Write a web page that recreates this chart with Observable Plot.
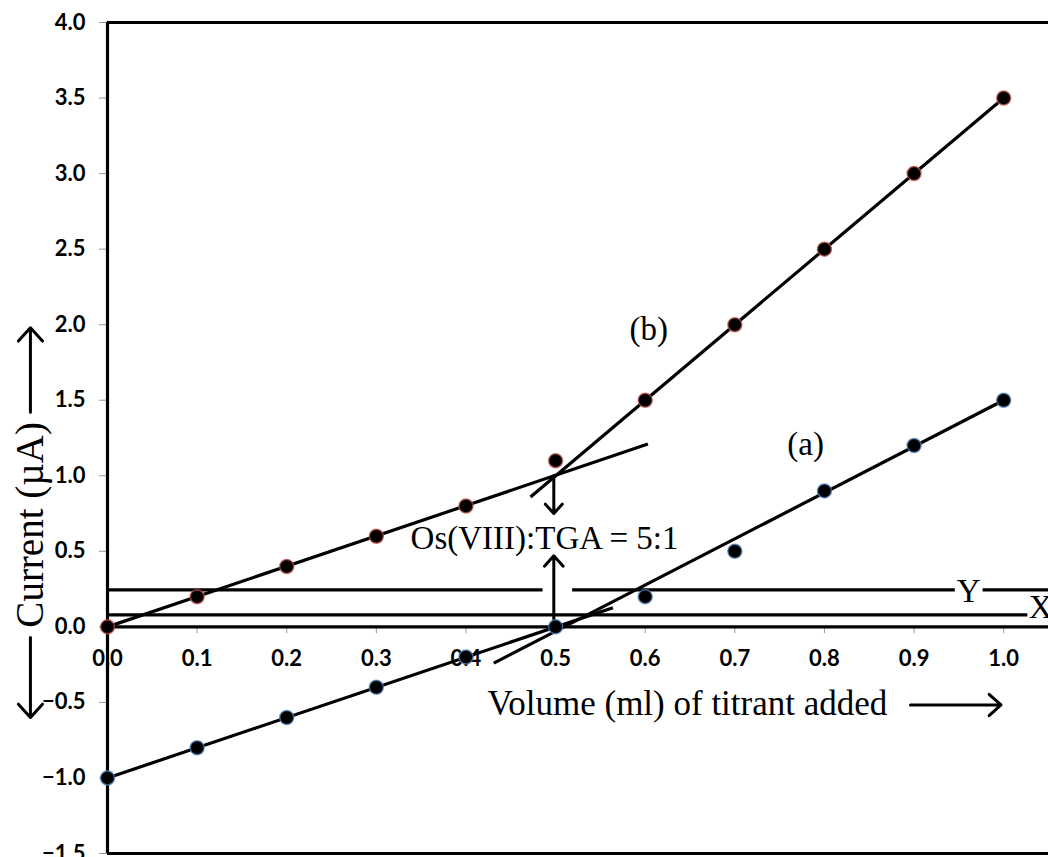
<!DOCTYPE html>
<html><head><meta charset="utf-8">
<script src="https://cdn.jsdelivr.net/npm/d3@7"></script>
<script src="https://cdn.jsdelivr.net/npm/@observablehq/plot@0.6"></script>
<style>body{margin:0;background:#fff}</style>
</head><body><div id="chart"></div>
<script>
// ---- data ----
const volume   = [0.0, 0.1, 0.2, 0.3, 0.4, 0.5, 0.6, 0.7, 0.8, 0.9, 1.0];
const currentA = [-1.0, -0.8, -0.6, -0.4, -0.2, 0.0, 0.2, 0.5, 0.9, 1.2, 1.5];
const currentB = [0.0, 0.2, 0.4, 0.6, 0.8, 1.1, 1.5, 2.0, 2.5, 3.0, 3.5];
const xTicks = [0.0, 0.1, 0.2, 0.3, 0.4, 0.5, 0.6, 0.7, 0.8, 0.9, 1.0];
const yTicks = [-1.5, -1.0, -0.5, 0.0, 0.5, 1.0, 1.5, 2.0, 2.5, 3.0, 3.5, 4.0];
// fitted straight-line segments (b low, b steep, a low, a steep)
const fitX1 = [0.0, 0.472, 0.0, 0.431];
const fitY1 = [0.0, 0.86, -1.0, -0.24];
const fitX2 = [0.603, 1.0, 0.564, 1.0];
const fitY2 = [1.21, 3.5, 0.127, 1.5];
// horizontal reference lines Y (with gaps) and X
const refY  = [0.245, 0.245, 0.245, 0.08];
const refX1 = [0.0, 0.519, 0.977, 0.0];
const refX2 = [0.486, 0.946, 1.05, 1.027];
// annotation texts
const noteText = ["(b)", "(a)", "Os(VIII):TGA = 5:1", "Y"];
const noteX = [0.604, 0.779, 0.4877, 0.961];
const noteY = [1.97, 1.21, 0.583, 0.232];

const ptsA = volume.map((v, i) => ({v, c: currentA[i]}));
const ptsB = volume.map((v, i) => ({v, c: currentB[i]}));
const fits = fitX1.map((d, i) => ({x1: d, y1: fitY1[i], x2: fitX2[i], y2: fitY2[i]}));
const refs = refY.map((d, i) => ({y: d, x1: refX1[i], x2: refX2[i]}));
const notes = noteText.map((t, i) => ({t, x: noteX[i], y: noteY[i]}));

const serif = "Liberation Serif, Times New Roman, serif";
const fmt = d3.format(".1f");

const chart = Plot.plot({
  width: 1048, height: 857,
  marginLeft: 107, marginRight: 0, marginTop: 22, marginBottom: 4,
  x: {domain: [0, 1.05], axis: null},
  y: {domain: [-1.5, 4.0], axis: null},
  style: {fontFamily: "Lato, sans-serif", fontWeight: "bold", fontSize: "22px", background: "#fff", overflow: "visible"},
  marks: [
    Plot.axisY(yTicks, {tickSize: 8, tickPadding: 14, tickFormat: fmt, stroke: "#999", fill: "#000", label: null, fontSize: 22, fontWeight: "bold"}),
    Plot.ruleX(xTicks, {x: d => d, y1: 0, y2: -0.045, stroke: "#999", strokeWidth: 1}),
    Plot.text(xTicks, {x: d => d, y: 0, dy: 32, text: d => fmt(d), fill: "#000", fontSize: 22, fontWeight: "bold"}),
    // frame lines
    Plot.ruleY([4.0, -1.5], {stroke: "#000", strokeWidth: 3.2}),
    Plot.ruleY([0], {stroke: "#000", strokeWidth: 3.2}),
    Plot.ruleX([0], {stroke: "#000", strokeWidth: 3.2}),
    // reference lines X and Y
    Plot.ruleY(refs, {y: "y", x1: "x1", x2: "x2", stroke: "#000", strokeWidth: 3.2}),
    // fit lines
    Plot.link(fits, {x1: "x1", y1: "y1", x2: "x2", y2: "y2", stroke: "#000", strokeWidth: 3.2}),
    // annotation arrows
    Plot.arrow([{x1: 0.498, y1: 1.0, x2: 0.498, y2: 0.75}, {x1: 0.498, y1: 0.0, x2: 0.498, y2: 0.47}],
      {x1: "x1", y1: "y1", x2: "x2", y2: "y2", stroke: "#000", strokeWidth: 3, headLength: 7, headAngle: 84}),
    Plot.arrow([{x1: 0.896, y1: -0.517, x2: 0.997, y2: -0.517}],
      {x1: "x1", y1: "y1", x2: "x2", y2: "y2", stroke: "#000", strokeWidth: 3, headLength: 8, headAngle: 84}),
    Plot.arrow([{x1: -0.086, y1: 1.42, x2: -0.086, y2: 1.98}, {x1: -0.086, y1: -0.07, x2: -0.086, y2: -0.6}],
      {x1: "x1", y1: "y1", x2: "x2", y2: "y2", stroke: "#000", strokeWidth: 3, headLength: 9, headAngle: 84}),
    // dots
    Plot.dot(ptsB, {x: "v", y: "c", r: 7, fill: "#000", stroke: "#c0504d", strokeWidth: 1.5, strokeOpacity: 0.75}),
    Plot.dot(ptsA, {x: "v", y: "c", r: 7, fill: "#000", stroke: "#4f81bd", strokeWidth: 1.5, strokeOpacity: 0.75}),
    // texts
    Plot.text(notes, {x: "x", y: "y", text: "t", fontFamily: serif, fontWeight: "normal", fontSize: 33, fill: "#000"}),
    Plot.text(["X"], {x: 1.028, y: 0.126, text: d => d, textAnchor: "start", fontFamily: serif, fontWeight: "normal", fontSize: 33, fill: "#000"}),
    Plot.text(["Volume (ml) of titrant added"], {x: 0.424, y: -0.51, text: d => d, textAnchor: "start", fontFamily: serif, fontWeight: "normal", fontSize: 35, fill: "#000"}),
    Plot.text(["Current (\u00b5A)"], {x: -0.086, y: 0.675, text: d => d, rotate: -90, fontFamily: serif, fontWeight: "normal", fontSize: 39, fill: "#000"})
  ]
});
document.getElementById("chart").appendChild(chart);
</script>
</body></html>
